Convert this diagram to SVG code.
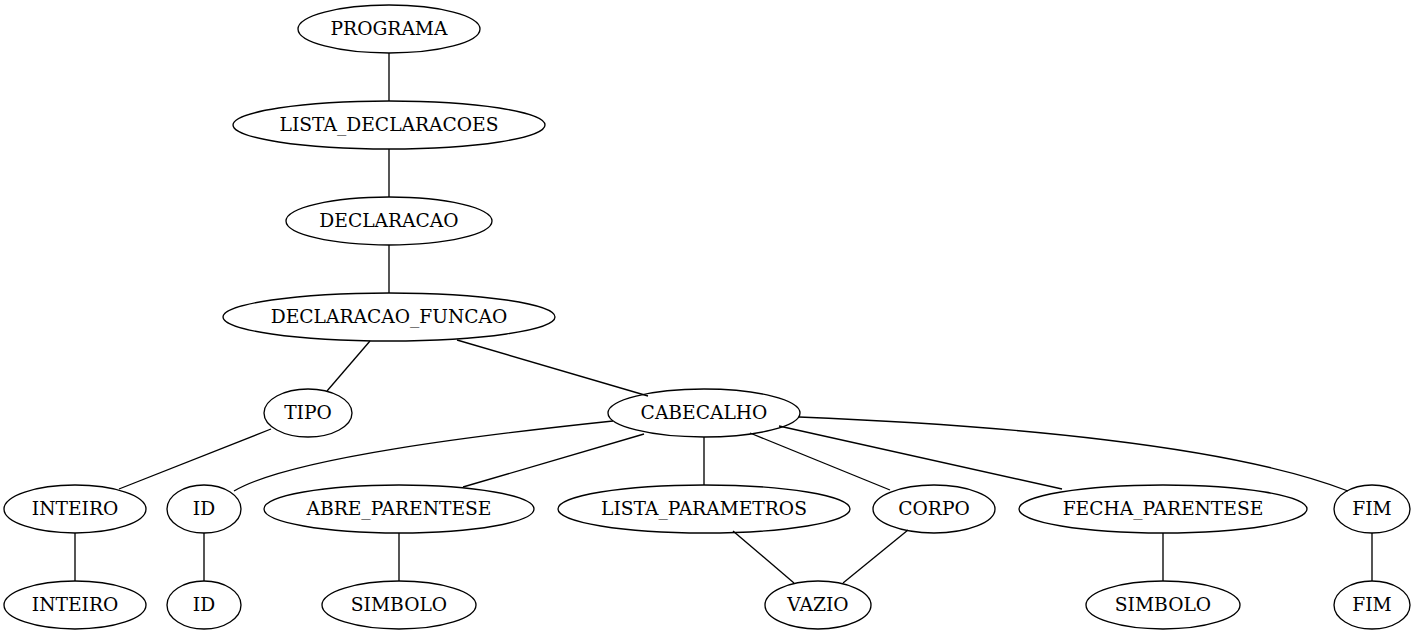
<svg xmlns="http://www.w3.org/2000/svg" width="1417" height="635" viewBox="0 0 1417 635">
<style>
.n ellipse{fill:none;stroke:#000;stroke-width:1.33}
.n text{font-family:"DejaVu Serif","Liberation Serif",serif;font-size:18.67px;text-anchor:middle;fill:#000}
.e path{fill:none;stroke:#000;stroke-width:1.33}
</style>
<rect width="1417" height="635" fill="#fff"/>
<g class="e" id="edges">
<path d="M389,53V101"/>
<path d="M389,149V197"/>
<path d="M389,245V293"/>
<path d="M370,341L327,391"/>
<path d="M457,340L648,396"/>
<path d="M271,429L119,489"/>
<path d="M613,421C480,435 290,458 234,491"/>
<path d="M644,434L463,487"/>
<path d="M704,437V485"/>
<path d="M750,433L890,490"/>
<path d="M779,426L1062,489"/>
<path d="M799,417C1000,425 1230,445 1348,491"/>
<path d="M75,533V581"/>
<path d="M204,533V581"/>
<path d="M399,533V581"/>
<path d="M733,531L794,583"/>
<path d="M908,530L843,583"/>
<path d="M1163,533V581"/>
<path d="M1372,533V581"/>
</g>
<g class="n" id="programa"><ellipse cx="389" cy="29" rx="91" ry="24"/><text x="389" y="35">PROGRAMA</text></g>
<g class="n" id="lista_declaracoes"><ellipse cx="389" cy="125" rx="156" ry="24"/><text x="389" y="131">LISTA_DECLARACOES</text></g>
<g class="n" id="declaracao"><ellipse cx="389" cy="221" rx="103" ry="24"/><text x="389" y="227">DECLARACAO</text></g>
<g class="n" id="declaracao_funcao"><ellipse cx="389" cy="317" rx="166" ry="24"/><text x="389" y="323">DECLARACAO_FUNCAO</text></g>
<g class="n" id="tipo"><ellipse cx="308" cy="413" rx="44" ry="24"/><text x="308" y="419">TIPO</text></g>
<g class="n" id="cabecalho"><ellipse cx="704" cy="413" rx="96" ry="24"/><text x="704" y="419">CABECALHO</text></g>
<g class="n" id="inteiro1"><ellipse cx="75" cy="509" rx="71" ry="24"/><text x="75" y="515">INTEIRO</text></g>
<g class="n" id="id1"><ellipse cx="204" cy="509" rx="37" ry="24"/><text x="204" y="515">ID</text></g>
<g class="n" id="abre_parentese"><ellipse cx="399" cy="509" rx="135" ry="24"/><text x="399" y="515">ABRE_PARENTESE</text></g>
<g class="n" id="lista_parametros"><ellipse cx="704" cy="509" rx="146" ry="24"/><text x="704" y="515">LISTA_PARAMETROS</text></g>
<g class="n" id="corpo"><ellipse cx="934" cy="509" rx="61" ry="24"/><text x="934" y="515">CORPO</text></g>
<g class="n" id="fecha_parentese"><ellipse cx="1163" cy="509" rx="144" ry="24"/><text x="1163" y="515">FECHA_PARENTESE</text></g>
<g class="n" id="fim1"><ellipse cx="1372" cy="509" rx="38" ry="24"/><text x="1372" y="515">FIM</text></g>
<g class="n" id="inteiro2"><ellipse cx="75" cy="605" rx="71" ry="24"/><text x="75" y="611">INTEIRO</text></g>
<g class="n" id="id2"><ellipse cx="204" cy="605" rx="37" ry="24"/><text x="204" y="611">ID</text></g>
<g class="n" id="simbolo1"><ellipse cx="399" cy="605" rx="77" ry="24"/><text x="399" y="611">SIMBOLO</text></g>
<g class="n" id="vazio"><ellipse cx="818" cy="605" rx="53" ry="24"/><text x="818" y="611">VAZIO</text></g>
<g class="n" id="simbolo2"><ellipse cx="1163" cy="605" rx="77" ry="24"/><text x="1163" y="611">SIMBOLO</text></g>
<g class="n" id="fim2"><ellipse cx="1372" cy="605" rx="38" ry="24"/><text x="1372" y="611">FIM</text></g>
</svg>
